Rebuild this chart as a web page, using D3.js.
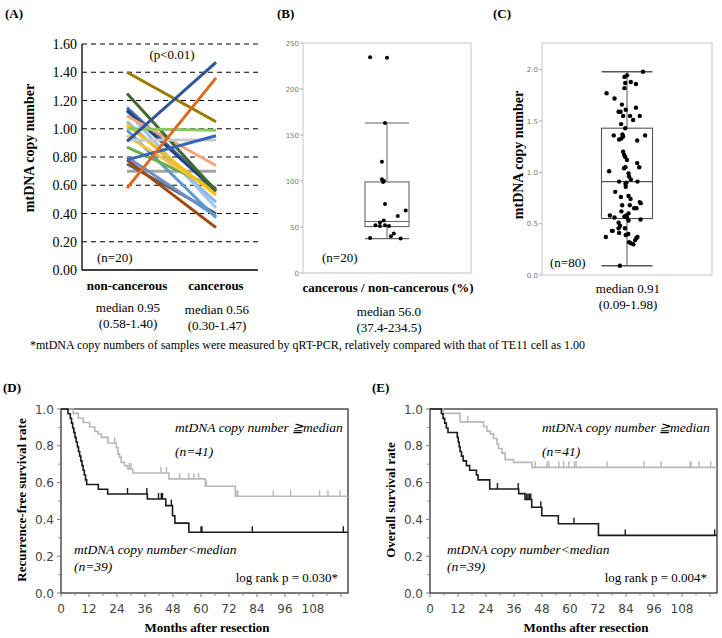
<!DOCTYPE html>
<html>
<head>
<meta charset="utf-8">
<script src="https://cdn.jsdelivr.net/npm/d3@7/dist/d3.min.js"></script>
<style>
  body { margin: 0; background: #fff; }
  svg { display: block; }
</style>
</head>
<body>
<div id="chart"></div>
<script>
// ---- panel A: paired copy numbers (drawn in this order)
const groupsA = ["non-cancerous", "cancerous"];
const nonCancerous = [0.70, 0.75, 0.78, 0.80, 0.99, 1.05, 1.12, 0.87, 0.95, 1.03, 1.15, 1.13, 1.09, 1.25, 0.92, 1.40, 1.00, 0.78, 0.58, 0.91];
const cancerous    = [0.70, 0.40, 0.30, 0.38, 0.37, 0.48, 0.44, 0.58, 0.55, 0.53, 0.57, 0.56, 0.74, 0.56, 0.92, 1.05, 0.99, 0.95, 1.36, 1.47];
const pairColors = ["#a5a5a5", "#636363", "#9e480e", "#6f8fc9", "#5b9bd5", "#8fb4e3", "#9dc3e6", "#70ad47", "#f2c14e", "#ffc000",
                    "#4472c4", "#264478", "#f0a57c", "#43682b", "#c9c9c9", "#9c7a00", "#8cc861", "#3566b8", "#dd6a1f", "#2f5597"];
const ticksA = [0, 0.2, 0.4, 0.6, 0.8, 1.0, 1.2, 1.4, 1.6];
const medianTextA = [["median 0.95", "(0.58-1.40)"], ["median 0.56", "(0.30-1.47)"]];

// ---- panel B: cancerous / non-cancerous ratio (%)
const ratioValues = [234.5, 234, 163, 121, 102, 100, 99, 75, 68, 62, 57, 55, 52, 51, 52, 51, 43, 40, 38, 37.4];
const ratioJitter = [-0.77, 0, -0.09, -0.23, -0.23, -0.14, -0.18, -0.09, 0.85, 0.49, -0.15, -0.32, -0.52, -0.32, -0.09, 0.09, 0.31, 0.18, -0.77, 0.62];
const ratioStats = [37.4, 50.5, 56.0, 99, 163];   // lo, q1, median, q3, hi
const ticksB = [0, 50, 100, 150, 200, 250];

// ---- panel C: copy number of 80 tumours
const copyValues = [1.98, 1.945, 1.93, 1.87, 1.88, 1.86, 1.82, 1.77, 1.72, 1.66, 1.63, 1.61, 1.59, 1.59, 1.55, 1.55, 1.55, 1.51, 1.47, 1.43,
                    1.36, 1.37, 1.36, 1.32, 1.33, 1.35, 1.31, 1.20, 1.17, 1.15, 1.12, 1.09, 1.05, 1.05, 1.04, 1.01, 0.99, 0.96, 0.93, 0.91,
                    0.90, 0.91, 0.89, 0.86, 0.81, 0.76, 0.77, 0.74, 0.71, 0.70, 0.68, 0.68, 0.65, 0.65, 0.62, 0.60, 0.56, 0.57, 0.58, 0.56,
                    0.58, 0.51, 0.54, 0.53, 0.48, 0.455, 0.455, 0.43, 0.43, 0.41, 0.39, 0.40, 0.37, 0.36, 0.37, 0.34, 0.32, 0.31, 0.30, 0.09];
const copyJitter = [0.63, 0, -0.10, -0.07, 0.15, 0.35, -0.10, -0.80, -0.49, -0.20, 0.35, -0.05, -0.33, -0.25, -0.15, 0.12, 0.50, 0.24, -0.23, -0.07,
                    -0.52, -0.18, 0.71, -0.31, -0.22, -0.15, 0.40, -0.15, -0.11, -0.07, 0, 0.40, 0.48, -0.06, -0.12, -0.70, 0.06, 0.08, 0.15, -0.31,
                    -0.02, 0.41, -0.06, -0.05, -0.46, -0.24, 0.06, 0.14, 0.50, 0.54, -0.19, 0.11, 0.28, 0.37, -0.22, 0.06, 0, -0.10, -0.67, -0.49,
                    -0.03, -0.33, 0.53, 0.06, -0.27, -0.08, -0.33, -0.59, -0.56, -0.31, -0.05, 0.05, 0.41, 0.37, -0.83, 0.32, 0.08, 0.15, 0.25, -0.28];
const copyStats = [0.09, 0.55, 0.91, 1.43, 1.98];
const ticksC = [0, 0.5, 1.0, 1.5, 2.0];

// ---- panels D/E: Kaplan-Meier steps [month, survival] and censor months
const rfsHigh = [[0, 1], [5.2, 0.976], [7.4, 0.951], [9.5, 0.927], [12.3, 0.902], [14.5, 0.878], [15.9, 0.864], [17.3, 0.846], [20.1, 0.815],
                 [23.7, 0.79], [24.4, 0.755], [25.1, 0.737], [25.8, 0.71], [27.2, 0.692], [28.6, 0.674], [30.8, 0.652], [46.3, 0.62], [61.9, 0.58], [74.7, 0.526]];
const rfsHighCens = [23, 29.3, 30, 42.8, 45.2, 50.9, 54.8, 57, 59, 62.3, 75.4, 75.8, 91, 98.4, 110.8, 114.4, 119.6];
const rfsLow = [[0, 1], [3, 0.974], [4, 0.949], [4.5, 0.923], [5, 0.897], [5.5, 0.872], [6, 0.846], [6.5, 0.821], [7, 0.795], [7.5, 0.769],
                [8, 0.744], [8.5, 0.718], [9, 0.692], [9.5, 0.667], [10, 0.641], [10.5, 0.615], [11, 0.59], [16, 0.564], [20, 0.538],
                [37, 0.511], [44.9, 0.475], [47.8, 0.42], [48.8, 0.38], [54.8, 0.33]];
const rfsLowCens = [28.5, 36.8, 41.8, 43, 43.5, 47.3, 60, 60.4, 82, 121];
const osHigh = [[0, 1], [5.7, 0.976], [12.9, 0.93], [22.9, 0.905], [24.4, 0.88], [25.8, 0.865], [27.2, 0.84], [28.7, 0.81], [29.4, 0.785],
                [30.8, 0.76], [32.2, 0.725], [35.8, 0.71], [43.7, 0.683]];
const osHighCens = [16.2, 45.1, 50.1, 50.9, 55.2, 57.3, 59.5, 62, 62.6, 75.9, 91.7, 99.1, 111.5, 111.9, 115.3, 120.3];
const osLow = [[0, 1], [4.9, 0.974], [5.6, 0.949], [6.3, 0.923], [7, 0.897], [7.7, 0.872], [11.7, 0.846], [12.1, 0.821], [12.5, 0.795],
               [12.9, 0.769], [13.5, 0.744], [14.2, 0.718], [15.6, 0.692], [17, 0.667], [19.9, 0.641], [20.6, 0.615], [25.6, 0.565],
               [38, 0.54], [40.7, 0.508], [43.6, 0.466], [47.9, 0.42], [55, 0.376], [72.2, 0.313]];
const osLowCens = [28.9, 37.8, 41.4, 42, 42.6, 43.2, 47.5, 61.7, 83.7, 122];
const monthTicks = [0, 12, 24, 36, 48, 60, 72, 84, 96, 108];
const survTicks = [0, 0.2, 0.4, 0.6, 0.8, 1.0];

const svg = d3.select("#chart").append("svg")
    .attr("width", 722).attr("height", 638)
    .attr("viewBox", [0, 0, 722, 638]);
svg.append("rect").attr("width", 722).attr("height", 638).attr("fill", "#fff");

const serif = '"Liberation Serif", "Times New Roman", serif';
const sans = '"DejaVu Sans", Verdana, sans-serif';

function txt(g, x, y, s, opt = {}) {
  return g.append("text")
      .attr("x", x).attr("y", y)
      .attr("font-family", opt.family || serif)
      .attr("font-size", opt.size || 13)
      .attr("font-weight", opt.bold ? "bold" : null)
      .attr("font-style", opt.italic ? "italic" : null)
      .attr("text-anchor", opt.anchor || "start")
      .attr("fill", opt.fill || "#000")
      .text(s);
}

// ================= panel A
{
  const g = svg.append("g");
  const y = d3.scaleLinear().domain([0, 1.6]).range([270, 44]);
  const x = d3.scalePoint().domain(groupsA).range([127, 216]);

  g.selectAll(".grid").data(ticksA.filter(d => d > 0)).enter().append("line")
      .attr("x1", 82).attr("x2", 258)
      .attr("y1", d => y(d)).attr("y2", d => y(d))
      .attr("stroke", "#000").attr("stroke-width", 1.2).attr("stroke-dasharray", "5,4");
  g.append("line").attr("x1", 82).attr("x2", 82).attr("y1", y(1.6)).attr("y2", y(0))
      .attr("stroke", "#000").attr("stroke-width", 1.3);
  g.append("line").attr("x1", 82).attr("x2", 258).attr("y1", y(0)).attr("y2", y(0))
      .attr("stroke", "#000").attr("stroke-width", 1.3);

  ticksA.forEach(t => txt(g, 77, y(t) + 5, t.toFixed(2), {size: 14, anchor: "end"}));

  nonCancerous.forEach((v, i) => {
    g.append("line")
        .attr("x1", x(groupsA[0])).attr("y1", y(v))
        .attr("x2", x(groupsA[1])).attr("y2", y(cancerous[i]))
        .attr("stroke", pairColors[i]).attr("stroke-width", 3);
  });

  txt(g, 5, 18, "(A)", {bold: true, size: 13});
  txt(g, 172, 59, "(p<0.01)", {anchor: "middle"});
  txt(g, 97, 262, "(n=20)");
  txt(g, 0, 0, "mtDNA copy number", {bold: true, size: 14, anchor: "middle"})
      .attr("transform", "translate(34,148) rotate(-90)");
  groupsA.forEach((c, i) => {
    txt(g, x(c), 290, c, {bold: true, anchor: "middle"});
    txt(g, x(c) + 1, 312 + 2 * i, medianTextA[i][0], {anchor: "middle"});
    txt(g, x(c) + 1, 328 + 2 * i, medianTextA[i][1], {anchor: "middle"});
  });
}

// ================= box + dots panels (B, C)
function boxPanel(opt) {
  const g = svg.append("g");
  const y = d3.scaleLinear().domain(opt.domain).range([opt.bottom, opt.top]);
  const cx = (opt.left + opt.right) / 2;
  const hw = opt.halfWidth;
  g.append("rect").attr("x", opt.left).attr("y", opt.top)
      .attr("width", opt.right - opt.left).attr("height", opt.bottom - opt.top)
      .attr("fill", "none").attr("stroke", "#cfcfcf").attr("stroke-width", 1.2);
  opt.ticks.forEach(t => {
    g.append("line").attr("x1", opt.left - 3).attr("x2", opt.left)
        .attr("y1", y(t)).attr("y2", y(t)).attr("stroke", "#aaa");
    txt(g, opt.left - 4, y(t) + 2.5, opt.fmt(t), {family: sans, size: 7, anchor: "end", fill: "#777"});
  });
  const [lo, q1, med, q3, hi] = opt.stats;
  const st = opt.boxStroke;
  g.append("line").attr("x1", cx).attr("x2", cx).attr("y1", y(hi)).attr("y2", y(q3)).attr("stroke", st);
  g.append("line").attr("x1", cx).attr("x2", cx).attr("y1", y(q1)).attr("y2", y(lo)).attr("stroke", st);
  [lo, hi].forEach(v => g.append("line").attr("x1", cx - hw).attr("x2", cx + hw)
      .attr("y1", y(v)).attr("y2", y(v)).attr("stroke", st).attr("stroke-width", opt.capWidth));
  g.append("rect").attr("x", cx - hw).attr("y", y(q3)).attr("width", 2 * hw).attr("height", y(q1) - y(q3))
      .attr("fill", "none").attr("stroke", st).attr("stroke-width", 1.1);
  g.append("line").attr("x1", cx - hw).attr("x2", cx + hw).attr("y1", y(med)).attr("y2", y(med))
      .attr("stroke", st).attr("stroke-width", 1.1);
  g.selectAll("circle").data(opt.values).enter().append("circle")
      .attr("cx", (d, i) => cx + opt.jitter[i] * hw)
      .attr("cy", d => y(d))
      .attr("r", opt.r).attr("fill", "#000");
  return {g, y, cx};
}

{
  const {g} = boxPanel({left: 303, right: 471, top: 43, bottom: 273, domain: [0, 250], ticks: ticksB,
    fmt: d => d, stats: ratioStats, values: ratioValues, jitter: ratioJitter, halfWidth: 22,
    boxStroke: "#666", capWidth: 1.1, r: 2});
  txt(g, 277, 18, "(B)", {bold: true});
  txt(g, 322, 262, "(n=20)");
  txt(g, 388, 292, "cancerous / non-cancerous (%)", {bold: true, anchor: "middle"});
  txt(g, 389, 316, "median 56.0", {anchor: "middle"});
  txt(g, 389, 332, "(37.4-234.5)", {anchor: "middle"});
}

{
  const {g} = boxPanel({left: 542, right: 712, top: 43, bottom: 275, domain: [0, 2.26], ticks: ticksC,
    fmt: d => d.toFixed(1), stats: copyStats, values: copyValues, jitter: copyJitter, halfWidth: 25.5,
    boxStroke: "#555", capWidth: 1.6, r: 2.2});
  txt(g, 493, 18, "(C)", {bold: true});
  txt(g, 550, 267, "(n=80)");
  txt(g, 0, 0, "mtDNA copy number", {bold: true, size: 14, anchor: "middle"})
      .attr("transform", "translate(523,155) rotate(-90)");
  txt(g, 628, 293, "median 0.91", {anchor: "middle"});
  txt(g, 628, 309, "(0.09-1.98)", {anchor: "middle"});
}

txt(svg, 30, 349, "*mtDNA copy numbers of samples were measured by qRT-PCR, relatively compared with that of TE11 cell as 1.00", {size: 12});

// ================= Kaplan-Meier panels (D, E)
function survAt(steps, t) {
  let s = 1;
  steps.forEach(d => { if (d[0] <= t) s = d[1]; });
  return s;
}

function kmPanel(opt) {
  const g = svg.append("g");
  const x = d3.scaleLinear().domain([0, 123]).range([opt.left, opt.left + 287]);
  const y = d3.scaleLinear().domain([0, 1]).range([593, 409]);

  g.append("rect").attr("x", x(0)).attr("y", y(1)).attr("width", x(123) - x(0)).attr("height", y(0) - y(1))
      .attr("fill", "none").attr("stroke", "#222").attr("stroke-width", 1.2);

  d3.range(0, 1.01, 0.1).forEach(v => {
    const major = Math.round(v * 10) % 2 === 0;
    g.append("line").attr("x1", x(0) - (major ? 4 : 2.5)).attr("x2", x(0))
        .attr("y1", y(v)).attr("y2", y(v)).attr("stroke", "#777");
  });
  survTicks.forEach(v => txt(g, x(0) - 7, y(v) + 4.5, v.toFixed(1), {family: sans, size: 12, anchor: "end", fill: "#444"}));
  d3.range(0, 121, 6).forEach(m => {
    g.append("line").attr("x1", x(m)).attr("x2", x(m)).attr("y1", y(0))
        .attr("y2", y(0) + (m % 12 === 0 ? 4 : 2.5)).attr("stroke", "#777");
  });
  monthTicks.forEach(m => txt(g, x(m), 613, m, {family: sans, size: 12, anchor: "middle", fill: "#444"}));

  const line = d3.line().x(d => x(d[0])).y(d => y(d[1])).curve(d3.curveStepAfter);
  [[opt.high, opt.highCens, "#b8b8b8"], [opt.low, opt.lowCens, "#1a1a1a"]].forEach(([steps, cens, col]) => {
    const pts = steps.concat([[123, steps[steps.length - 1][1]]]);
    g.append("path").datum(pts).attr("d", line)
        .attr("fill", "none").attr("stroke", col).attr("stroke-width", 1.6);
    cens.forEach(t => {
      const s = survAt(steps, t);
      g.append("line").attr("x1", x(t)).attr("x2", x(t)).attr("y1", y(s)).attr("y2", y(s) - 6)
          .attr("stroke", col).attr("stroke-width", 1.4);
    });
  });

  txt(g, opt.left - 58, 392, opt.tag, {bold: true});
  txt(g, 0, 0, opt.ylabel, {bold: true, anchor: "middle"})
      .attr("transform", `translate(${opt.left - 35},500) rotate(-90)`);
  txt(g, opt.xlabelX, 632, "Months after resection", {bold: true, anchor: "middle"});
  txt(g, opt.left + opt.annX, 432, "mtDNA copy number \u2267median", {italic: true, size: 13.5});
  txt(g, opt.left + opt.annX, 456, "(n=41)", {italic: true, size: 13.5});
  txt(g, opt.left + opt.lowX, 554, "mtDNA copy number<median", {italic: true, size: 13.5});
  txt(g, opt.left + opt.lowX, 571, "(n=39)", {italic: true, size: 13.5});
  txt(g, opt.left + 277, 582, opt.logrank, {anchor: "end"});
}

kmPanel({left: 61, tag: "(D)", ylabel: "Recurrence-free survival rate", xlabelX: 207,
  high: rfsHigh, highCens: rfsHighCens, low: rfsLow, lowCens: rfsLowCens,
  annX: 114, lowX: 13, logrank: "log rank p = 0.030*"});
kmPanel({left: 430, tag: "(E)", ylabel: "Overall survival rate", xlabelX: 586,
  high: osHigh, highCens: osHighCens, low: osLow, lowCens: osLowCens,
  annX: 112, lowX: 17, logrank: "log rank p = 0.004*"});
</script>
</body>
</html>
